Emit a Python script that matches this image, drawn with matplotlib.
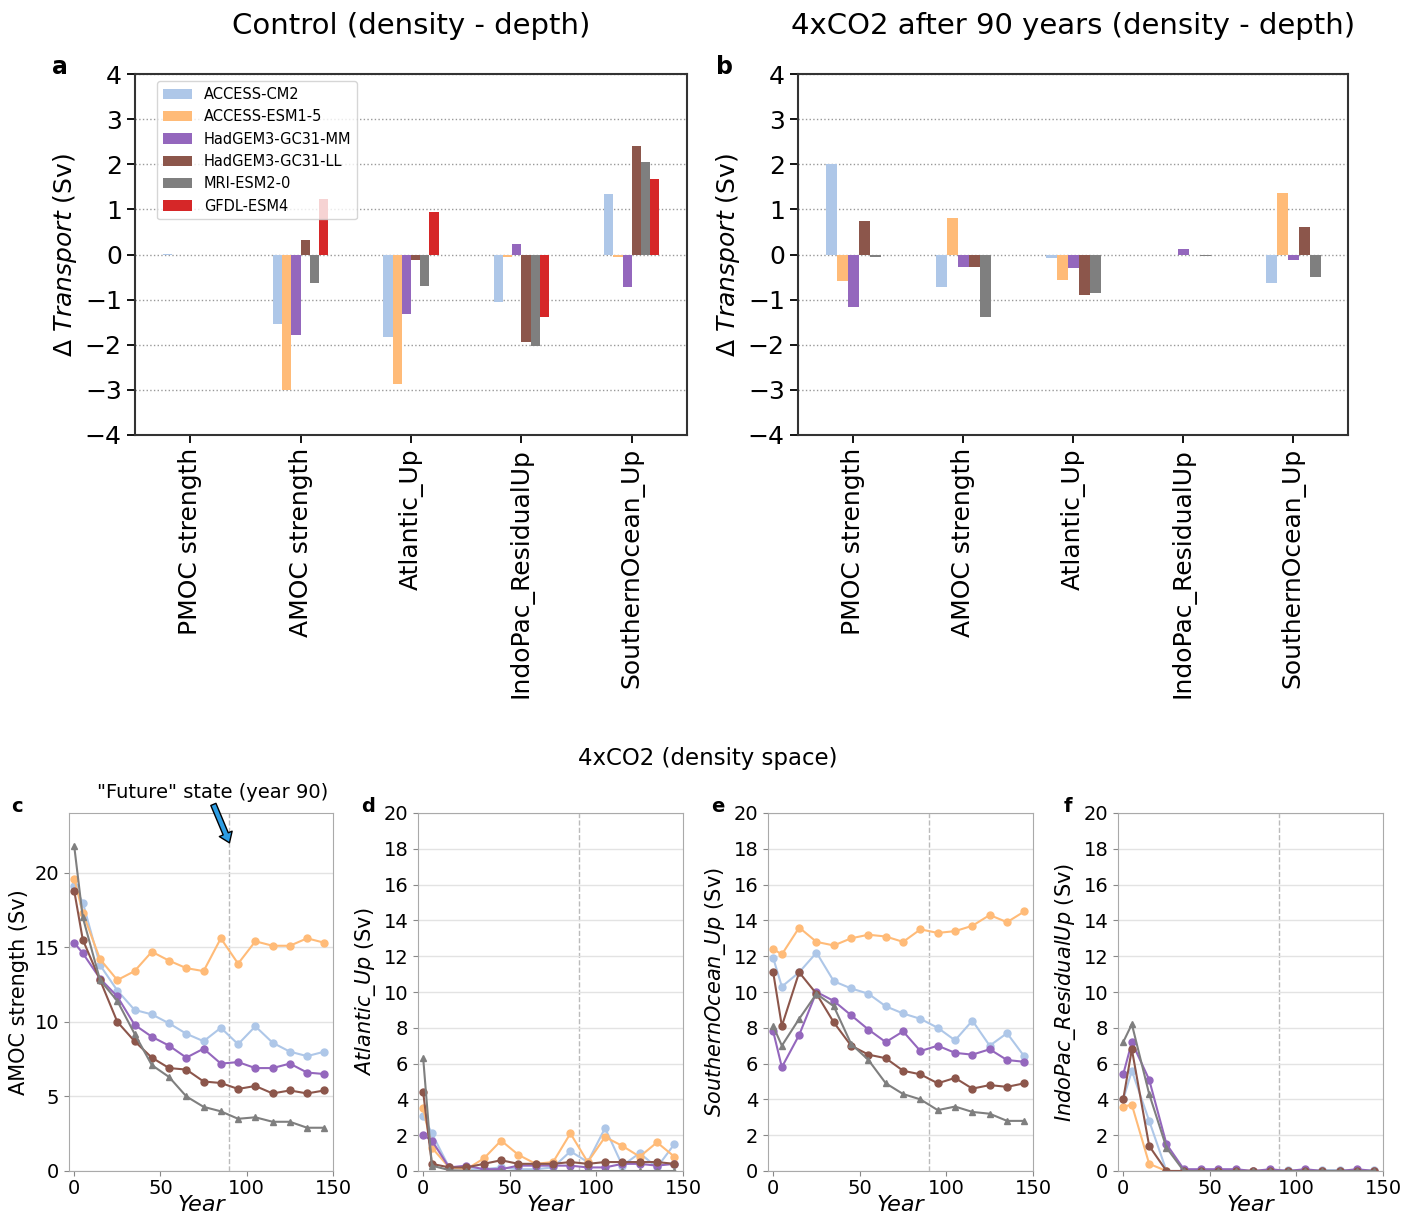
import matplotlib.pyplot as plt
import numpy as np

MODELS = ["ACCESS-CM2", "ACCESS-ESM1-5", "HadGEM3-GC31-MM",
          "HadGEM3-GC31-LL", "MRI-ESM2-0", "GFDL-ESM4"]
COLORS = ["#aec7e8", "#ffbb78", "#9467bd", "#8c564b", "#7f7f7f", "#d62728"]
MARKERS = ["o", "o", "o", "o", "^"]
CATEGORIES = ["PMOC strength", "AMOC strength", "Atlantic_Up",
              "IndoPac_ResidualUp", "SouthernOcean_Up"]

# panel a: control, density minus depth
CTRL_CM2 = [0.02, -1.55, -1.82, -1.05, 1.33]
CTRL_ESM15 = [0.0, -3.0, -2.87, -0.06, -0.06]
CTRL_MM = [0.0, -1.79, -1.32, 0.24, -0.71]
CTRL_LL = [0.0, 0.33, -0.13, -1.94, 2.41]
CTRL_MRI = [0.0, -0.64, -0.69, -2.03, 2.06]
CTRL_GFDL = [0.0, 1.24, 0.94, -1.38, 1.67]

# panel b: 4xCO2 after 90 years, density minus depth (no GFDL)
CO2_CM2 = [2.01, -0.71, -0.07, 0.0, -0.63]
CO2_ESM15 = [-0.59, 0.80, -0.57, 0.0, 1.37]
CO2_MM = [-1.17, -0.27, -0.31, 0.13, -0.13]
CO2_LL = [0.74, -0.28, -0.89, 0.0, 0.61]
CO2_MRI = [-0.06, -1.38, -0.86, -0.03, -0.49]

YEARS = [0, 5, 15, 25, 35, 45, 55, 65, 75, 85, 95, 105, 115, 125, 135, 145]

# panel c: AMOC strength
AMOC_CM2 = [19.1, 18.0, 13.8, 12.1, 10.8, 10.5, 9.9, 9.2, 8.7, 9.6, 8.5, 9.7, 8.6, 8.0, 7.7, 8.0]
AMOC_ESM15 = [19.6, 17.3, 14.2, 12.8, 13.4, 14.7, 14.1, 13.6, 13.4, 15.6, 13.9, 15.4, 15.1, 15.1, 15.6, 15.3]
AMOC_MM = [15.3, 14.6, 12.9, 11.7, 9.8, 9.0, 8.4, 7.6, 8.2, 7.2, 7.3, 6.9, 6.9, 7.2, 6.6, 6.5]
AMOC_LL = [18.8, 15.5, 12.8, 10.0, 8.7, 7.6, 6.9, 6.8, 6.0, 5.9, 5.5, 5.7, 5.2, 5.4, 5.2, 5.4]
AMOC_MRI = [21.8, 17.0, 12.8, 11.4, 9.2, 7.1, 6.3, 5.0, 4.3, 4.0, 3.5, 3.6, 3.3, 3.3, 2.9, 2.9]

# panel d: Atlantic_Up
ATL_CM2 = [3.1, 2.1, 0.2, 0.1, 0.1, 0.2, 0.1, 0.1, 0.2, 1.1, 0.5, 2.4, 0.3, 1.0, 0.2, 1.5]
ATL_ESM15 = [3.5, 1.3, 0.2, 0.1, 0.7, 1.7, 0.9, 0.4, 0.5, 2.1, 0.5, 1.9, 1.4, 0.8, 1.6, 0.8]
ATL_MM = [2.0, 1.7, 0.2, 0.3, 0.1, 0.1, 0.3, 0.3, 0.3, 0.3, 0.2, 0.2, 0.4, 0.4, 0.3, 0.4]
ATL_LL = [4.4, 0.4, 0.2, 0.2, 0.4, 0.6, 0.4, 0.4, 0.4, 0.5, 0.4, 0.5, 0.5, 0.5, 0.5, 0.4]
ATL_MRI = [6.3, 0.3, 0.05, 0.0, 0.0, 0.0, 0.0, 0.0, 0.0, 0.0, 0.0, 0.0, 0.0, 0.0, 0.0, 0.0]

# panel e: SouthernOcean_Up
SO_CM2 = [11.9, 10.3, 11.1, 12.2, 10.6, 10.2, 9.9, 9.2, 8.8, 8.5, 8.0, 7.3, 8.4, 7.0, 7.7, 6.4]
SO_ESM15 = [12.4, 12.1, 13.6, 12.8, 12.6, 13.0, 13.2, 13.1, 12.8, 13.5, 13.3, 13.4, 13.7, 14.3, 13.9, 14.5]
SO_MM = [7.8, 5.8, 7.6, 10.0, 9.5, 8.7, 7.9, 7.2, 7.8, 6.7, 7.0, 6.6, 6.5, 6.8, 6.2, 6.1]
SO_LL = [11.1, 8.1, 11.1, 9.9, 8.3, 7.0, 6.5, 6.3, 5.6, 5.4, 4.9, 5.2, 4.6, 4.8, 4.7, 4.9]
SO_MRI = [8.1, 7.0, 8.5, 9.9, 9.2, 7.1, 6.2, 4.9, 4.3, 4.0, 3.4, 3.6, 3.3, 3.2, 2.8, 2.8]

# panel f: IndoPac_ResidualUp
IP_CM2 = [4.0, 5.6, 2.8, 0.0, 0.0, 0.0, 0.0, 0.0, 0.0, 0.0, 0.05, 0.0, 0.05, 0.05, 0.0, 0.05]
IP_ESM15 = [3.6, 3.7, 0.4, 0.0, 0.0, 0.0, 0.0, 0.0, 0.02, 0.0, 0.0, 0.0, 0.0, 0.0, 0.0, 0.0]
IP_MM = [5.4, 7.2, 5.1, 1.5, 0.1, 0.1, 0.1, 0.1, 0.0, 0.1, 0.0, 0.1, 0.0, 0.0, 0.1, 0.0]
IP_LL = [4.0, 6.8, 1.4, 0.0, 0.0, 0.0, 0.0, 0.0, 0.0, 0.0, 0.0, 0.0, 0.0, 0.0, 0.0, 0.0]
IP_MRI = [7.2, 8.2, 4.3, 1.3, 0.0, 0.0, 0.0, 0.0, 0.0, 0.0, 0.0, 0.0, 0.0, 0.0, 0.0, 0.0]

W, H = 1417, 1220


def px_axes(fig, left, top, right, bottom):
    return fig.add_axes([left / W, 1 - bottom / H, (right - left) / W, (bottom - top) / H])


def bar_panel(ax, series, colors, labels, title):
    n = len(series)
    w = 0.5 / n
    x = np.arange(len(CATEGORIES))
    for i, (vals, c, lab) in enumerate(zip(series, colors, labels)):
        ax.bar(x - 0.25 + (i + 0.5) * w, vals, w, color=c, label=lab, zorder=2)
    ax.set_xlim(-0.5, len(CATEGORIES) - 0.5)
    ax.set_ylim(-4, 4)
    ax.set_yticks(range(-4, 5))
    ax.set_xticks(x)
    ax.set_xticklabels(CATEGORIES, rotation=90, fontsize=18)
    ax.tick_params(axis="y", labelsize=18)
    ax.tick_params(length=6, width=1.3)
    ax.yaxis.grid(True, ls=":", color="#999999", lw=1)
    ax.set_axisbelow(True)
    for s in ax.spines.values():
        s.set_linewidth(1.5)
        s.set_color("#333333")
    ax.set_ylabel(r"$\Delta$ $Transport$ (Sv)", fontsize=18)
    ax.set_title(title, fontsize=21, pad=29)


def line_panel(ax, series, ylabel, ylim, yticks):
    for vals, c, m in zip(series, COLORS[:5], MARKERS):
        ax.plot(YEARS, vals, color=c, marker=m, ms=5, lw=1.5)
    ax.axvline(90, color="#bbbbbb", ls="--", lw=1, zorder=0)
    ax.set_xlim(-3, 150)
    ax.set_ylim(*ylim)
    ax.set_yticks(yticks)
    ax.set_xticks([0, 50, 100, 150])
    ax.yaxis.grid(True, color="#e3e3e3", lw=1)
    ax.set_axisbelow(True)
    for s in ax.spines.values():
        s.set_color("#aaaaaa")
    ax.tick_params(labelsize=14, color="#888888")
    ax.tick_params(axis="x", pad=2)
    ax.set_ylabel(ylabel, fontsize=15)
    ax.set_xlabel("Year", fontsize=16, style="italic", labelpad=-2)


fig = plt.figure(figsize=(W / 100, H / 100), dpi=100)

ax_a = px_axes(fig, 135, 74, 687, 435)
bar_panel(ax_a, [CTRL_CM2, CTRL_ESM15, CTRL_MM, CTRL_LL, CTRL_MRI, CTRL_GFDL],
          COLORS, MODELS, "Control (density - depth)")
ax_a.legend(loc="upper left", bbox_to_anchor=(0.027, 1.0), fontsize=10.5)

ax_b = px_axes(fig, 798, 74, 1348, 435)
bar_panel(ax_b, [CO2_CM2, CO2_ESM15, CO2_MM, CO2_LL, CO2_MRI],
          COLORS[:5], MODELS[:5], "4xCO2 after 90 years (density - depth)")

ax_c = px_axes(fig, 69, 813, 333, 1171)
line_panel(ax_c, [AMOC_CM2, AMOC_ESM15, AMOC_MM, AMOC_LL, AMOC_MRI],
           "AMOC strength (Sv)", (0, 24), [0, 5, 10, 15, 20])
ax_c.annotate('"Future" state (year 90)', xy=(90, 22), xytext=(80, 25.4),
              ha="center", va="center", fontsize=14, annotation_clip=False,
              arrowprops=dict(facecolor="#2d9de3", edgecolor="black", lw=1,
                              width=4, headwidth=10, headlength=7, shrink=0.0))

ax_d = px_axes(fig, 418, 813, 683, 1171)
line_panel(ax_d, [ATL_CM2, ATL_ESM15, ATL_MM, ATL_LL, ATL_MRI],
           r"$Atlantic\_Up$ (Sv)", (0, 20), range(0, 21, 2))

ax_e = px_axes(fig, 768, 813, 1033, 1171)
line_panel(ax_e, [SO_CM2, SO_ESM15, SO_MM, SO_LL, SO_MRI],
           r"$SouthernOcean\_Up$ (Sv)", (0, 20), range(0, 21, 2))

ax_f = px_axes(fig, 1118, 813, 1383, 1171)
line_panel(ax_f, [IP_CM2, IP_ESM15, IP_MM, IP_LL, IP_MRI],
           r"$IndoPac\_ResidualUp$ (Sv)", (0, 20), range(0, 21, 2))

fig.text(708 / W, 1 - 758 / H, "4xCO2 (density space)", ha="center", va="center", fontsize=16.5)

for lab, x, y, size in [("a", 60, 67, 17), ("b", 724, 67, 17),
                        ("c", 17, 807, 14), ("d", 368, 807, 14),
                        ("e", 718, 807, 14), ("f", 1068, 807, 14)]:
    fig.text(x / W, 1 - y / H, lab, ha="center", va="center", fontsize=size, fontweight="bold")

fig.savefig("out.png", dpi=100)
